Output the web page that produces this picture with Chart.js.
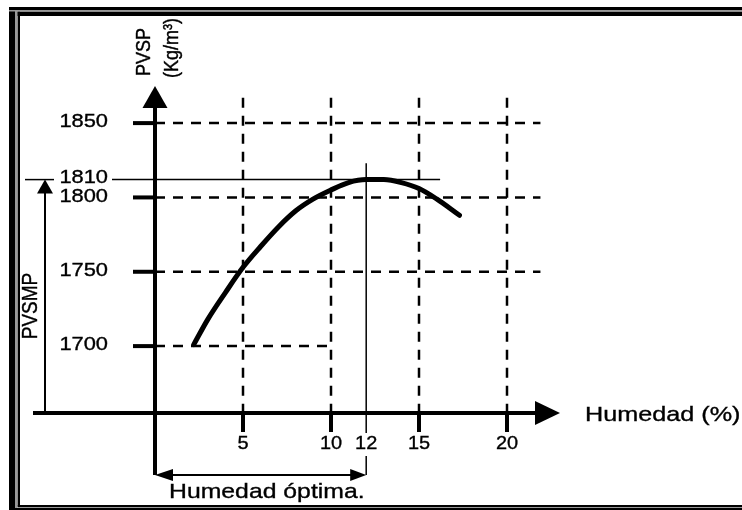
<!DOCTYPE html>
<html>
<head>
<meta charset="utf-8">
<script src="https://cdn.jsdelivr.net/npm/chart.js@4.4.0/dist/chart.umd.min.js"></script>
<style>
  body { margin: 0; background: #fff; }
  #wrap { width: 742px; height: 510px; }
</style>
</head>
<body>
<div id="wrap"><canvas id="myChart" width="742" height="510"></canvas></div>
<script>
// curva de compactacion
const humedad = [2.2, 3, 4, 5, 6, 7, 8, 9, 10, 11, 12, 13, 14, 15, 16, 17.3];
const pvsp = [1701, 1718, 1736, 1753, 1767, 1780, 1791, 1799, 1805, 1810, 1812, 1812, 1810, 1806, 1799, 1788];

const xTicks = [5, 10, 15, 20];
const xLabels = [5, 10, 12, 15, 20];
const yTicks = [1700, 1750, 1800, 1850];

const optHumedad = 12;
const optPvsp = 1812;
const optLabel = '1810';

const FONT = '"Liberation Sans", Arial, sans-serif';

function txt(ctx, s, x, y, size, align, sx, rot) {
  ctx.save();
  ctx.translate(x, y);
  ctx.scale(sx, 1);
  if (rot) ctx.rotate(-Math.PI / 2);
  ctx.font = size + 'px ' + FONT;
  ctx.fillStyle = '#000';
  ctx.strokeStyle = '#000';
  ctx.lineWidth = 0.35;
  ctx.textAlign = align;
  ctx.textBaseline = rot ? 'alphabetic' : 'middle';
  ctx.fillText(s, 0, 0);
  ctx.strokeText(s, 0, 0);
  ctx.restore();
}

function line(ctx, x1, y1, x2, y2) {
  ctx.beginPath();
  ctx.moveTo(x1, y1);
  ctx.lineTo(x2, y2);
  ctx.stroke();
}

function tri(ctx, a, b, c) {
  ctx.beginPath();
  ctx.moveTo(a[0], a[1]);
  ctx.lineTo(b[0], b[1]);
  ctx.lineTo(c[0], c[1]);
  ctx.closePath();
  ctx.fill();
}

const dibujo = {
  id: 'dibujo',
  beforeDraw(chart) {
    const ctx = chart.ctx;
    ctx.save();
    ctx.fillStyle = '#fff';
    ctx.fillRect(0, 0, chart.width, chart.height);
    // marco doble
    ctx.fillStyle = '#000';
    ctx.fillRect(9, 7, 733, 3);
    ctx.fillRect(9, 7, 6, 503);
    ctx.fillRect(15, 11.5, 727, 4.5);
    ctx.fillRect(17.5, 11.5, 2.5, 495);
    ctx.fillRect(17.5, 505, 725, 2);
    ctx.fillRect(9, 508, 733, 2);
    ctx.fillStyle = '#999';
    ctx.fillRect(9, 10, 733, 1.5);
    ctx.fillRect(15, 10, 2.5, 498);
    ctx.fillRect(17.5, 507, 725, 1);
    ctx.restore();
  },
  beforeDatasetsDraw(chart) {
    const ctx = chart.ctx, xs = chart.scales.x, ys = chart.scales.y;
    const X = v => xs.getPixelForValue(v), Y = v => ys.getPixelForValue(v);
    const x0 = xs.left, y0 = ys.bottom;
    ctx.save();
    ctx.strokeStyle = '#000';
    ctx.fillStyle = '#000';

    // lineas discontinuas
    ctx.lineWidth = 2.5;
    ctx.setLineDash([10, 8]);
    yTicks.forEach(v => line(ctx, x0, Y(v), v === yTicks[0] ? X(10) : X(21.9), Y(v)));
    xTicks.forEach(v => line(ctx, X(v), Y(1867), X(v), y0));
    ctx.setLineDash([]);

    // lineas del optimo
    ctx.lineWidth = 1.5;
    line(ctx, 25, Y(optPvsp), 54, Y(optPvsp));
    line(ctx, 112, Y(optPvsp), X(16.2), Y(optPvsp));
    line(ctx, X(optHumedad), Y(1823), X(optHumedad), 433);
    line(ctx, X(optHumedad), 456, X(optHumedad), 475);

    // ejes
    ctx.lineWidth = 4;
    line(ctx, 33, y0, 540, y0);
    tri(ctx, [560, y0], [535, y0 - 12], [535, y0 + 12]);
    line(ctx, x0, 475, x0, 105);
    tri(ctx, [x0, 86], [x0 - 12.5, 108], [x0 + 12.5, 108]);
    yTicks.forEach(v => line(ctx, 133, Y(v), x0, Y(v)));
    xTicks.forEach(v => line(ctx, X(v), y0, X(v), 432));

    // flecha PVSMP
    ctx.lineWidth = 2;
    line(ctx, 45, y0, 45, Y(optPvsp) + 12);
    tri(ctx, [45, Y(optPvsp)], [37, Y(optPvsp) + 14], [53, Y(optPvsp) + 14]);

    // cota humedad optima
    line(ctx, x0 + 10, 475, X(optHumedad) - 10, 475);
    tri(ctx, [x0, 475], [x0 + 18, 469], [x0 + 18, 481]);
    tri(ctx, [X(optHumedad), 475], [X(optHumedad) - 16, 469], [X(optHumedad) - 16, 481]);
    ctx.restore();
  },
  afterDatasetsDraw(chart) {
    const ctx = chart.ctx, xs = chart.scales.x, ys = chart.scales.y;
    const X = v => xs.getPixelForValue(v), Y = v => ys.getPixelForValue(v);
    ctx.save();
    yTicks.forEach(v => txt(ctx, String(v), 108, Y(v) - 1, 19, 'right', 1.15));
    txt(ctx, optLabel, 108, Y(optPvsp) - 1.5, 19, 'right', 1.15);
    xLabels.forEach(v => txt(ctx, String(v), X(v), 444, 19, 'center', 1.05));
    txt(ctx, 'Humedad (%)', 585, 415, 21, 'left', 1.2);
    txt(ctx, 'Humedad óptima.', 169, 492, 21, 'left', 1.18);
    txt(ctx, 'PVSMP', 37, 306, 19, 'center', 1.17, true);
    txt(ctx, 'PVSP', 150, 52, 18, 'center', 1.17, true);
    txt(ctx, '(Kg/m³)', 178, 48, 18, 'center', 1.17, true);
    ctx.restore();
  }
};

new Chart(document.getElementById('myChart'), {
  type: 'line',
  data: {
    datasets: [{
      data: humedad.map((h, i) => ({ x: h, y: pvsp[i] })),
      borderColor: '#000',
      borderWidth: 5,
      borderCapStyle: 'round',
      pointRadius: 0,
      cubicInterpolationMode: 'monotone',
      fill: false,
      clip: false
    }]
  },
  options: {
    responsive: false,
    animation: false,
    events: [],
    layout: { padding: { left: 155, right: 199.8, top: 78.5, bottom: 97 } },
    plugins: { legend: { display: false }, tooltip: { enabled: false } },
    scales: {
      x: { type: 'linear', min: 0, max: 22, display: false },
      y: { type: 'linear', min: 1655, max: 1880, display: false }
    }
  },
  plugins: [dibujo]
});
</script>
</body>
</html>
